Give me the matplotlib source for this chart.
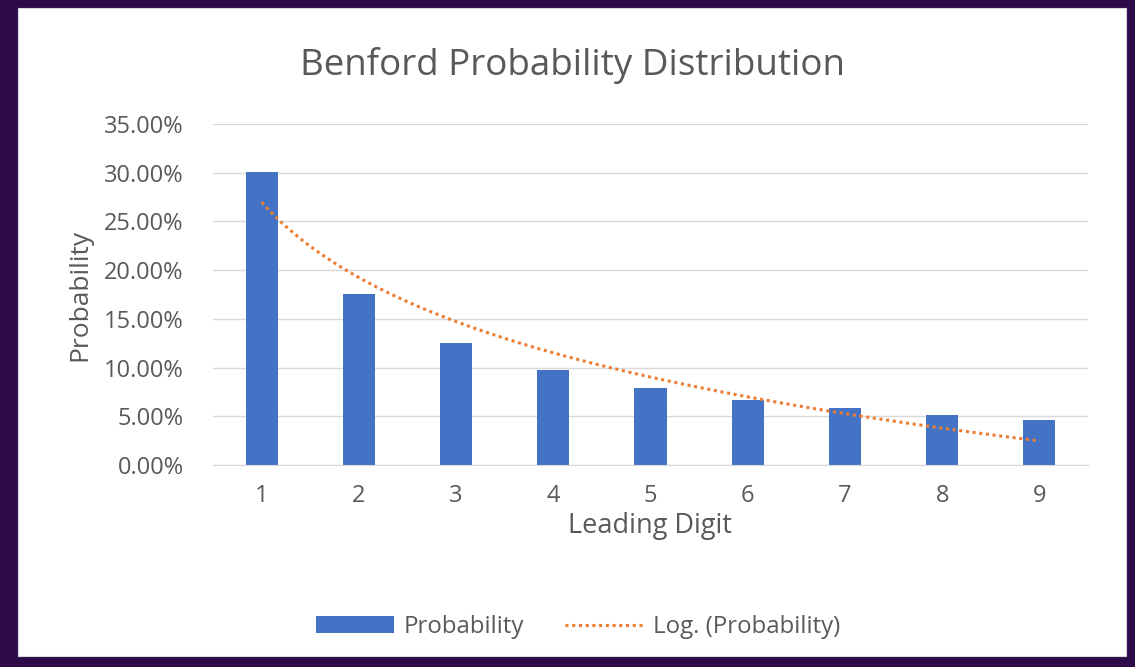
import matplotlib.pyplot as plt
import numpy as np
from matplotlib.patches import Rectangle
from matplotlib.ticker import PercentFormatter

digits = [1, 2, 3, 4, 5, 6, 7, 8, 9]
probability = [30.1, 17.6, 12.5, 9.7, 7.9, 6.7, 5.8, 5.1, 4.6]
yticks = [0, 5, 10, 15, 20, 25, 30, 35]

plt.rcParams['font.family'] = ['Open Sans', 'DejaVu Sans']
GREY = '#595959'

fig = plt.figure(figsize=(11.35, 6.67), dpi=100)
fig.patch.set_facecolor('#2d0a4a')
# white chart panel
fig.patches.append(Rectangle((18 / 1135, 1 - 656 / 667), 1108 / 1135, 648 / 667,
                             transform=fig.transFigure, facecolor='white',
                             edgecolor='#d9d9d9', lw=0.8, zorder=-5))

ax = fig.add_axes([213 / 1135, 1 - 465 / 667, 875 / 1135, 341 / 667])
ax.set_zorder(2)
ax.set_facecolor('white')

bars = ax.bar(digits, probability, width=0.33, color='#4472c4', zorder=2,
              label='Probability')

# logarithmic trendline (least squares on ln x)
x = np.array(digits, dtype=float)
a, b = np.polyfit(np.log(x), probability, 1)
xs = np.linspace(1, 9, 200)
trend, = ax.plot(xs, a * np.log(xs) + b, color='#ed7d31', lw=2.2,
                 ls=(0, (1, 1.2)), zorder=3, label='Log. (Probability)')

ax.set_xlim(0.5, 9.5)
ax.set_ylim(0, 35)
ax.set_yticks(yticks)
ax.yaxis.set_major_formatter(PercentFormatter(decimals=2))
ax.set_xticks(digits)
ax.grid(axis='y', color='#d9d9d9', lw=1, zorder=0)
for s in ['top', 'right', 'left']:
    ax.spines[s].set_visible(False)
ax.spines['bottom'].set_color('#d9d9d9')
ax.tick_params(length=0, colors=GREY, labelsize=17)
ax.tick_params(axis='x', pad=14)
ax.tick_params(axis='y', pad=21)

ax.set_xlabel('Leading Digit', fontsize=19.5, color=GREY)
ax.xaxis.set_label_coords(0.5, -(526 - 465) / 341)
ax.xaxis.label.set_va('center')
ax.set_ylabel('Probability', fontsize=19, color=GREY)
ax.yaxis.set_label_coords(-(213 - 80) / 875, 0.5)
ax.yaxis.label.set_va('center')

fig.text(572 / 1135, 1 - 66 / 667, 'Benford Probability Distribution',
         ha='center', va='center', fontsize=26.5, color=GREY)

fig.legend(handles=[bars, trend], loc='center',
           bbox_to_anchor=(578 / 1135, 1 - 627 / 667), ncol=2,
           frameon=False, fontsize=17.3, labelcolor=GREY, handlelength=3.25,
           handleheight=0.66, handletextpad=0.4, columnspacing=1.7,
           borderpad=0, borderaxespad=0)

fig.savefig('out.png', dpi=100, facecolor=fig.get_facecolor())
